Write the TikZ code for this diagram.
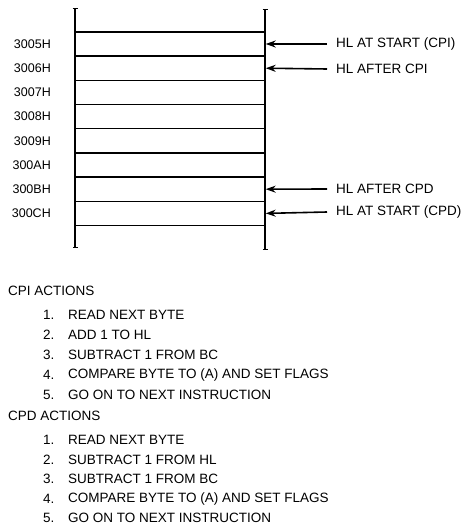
\documentclass[tikz,border=0pt]{standalone}
\usepackage{fontspec}
\setmainfont{Liberation Sans}
\usetikzlibrary{arrows.meta}
\tikzset{
  cell/.style={draw,line width=1.4pt,minimum width=190pt,minimum height=24.2pt,inner sep=0pt},
  addr/.style={anchor=east,inner sep=0pt,font=\fontsize{12.5}{14}\selectfont},
  hl/.style={anchor=west,inner sep=0pt,font=\fontsize{13.5}{16}\selectfont},
  txt/.style={anchor=west,inner sep=0pt,font=\fontsize{13.5}{15}\selectfont},
  ptr/.style={-{Stealth[length=10pt,width=7pt]},line width=1.6pt},
  side/.style={{Bar[width=5pt]}-{Bar[width=5pt]},line width=1.4pt}
}
\begin{document}
\begin{tikzpicture}[x=1pt,y=-1pt]
\useasboundingbox (0,0) rectangle (467,526);

   % memory cells
   \foreach \a [count=\i from 0] in {3005H,3006H,3007H,3008H,3009H,300AH,300BH,300CH} {
     \node[cell] at (170,44+24.2*\i) (c\i) {};
     \node[addr] at (51,44+24.2*\i) (a\i) {\a};
   }
   \draw[side] (75,8) -- (75,248);
   \draw[side] (265,9) -- (265,250);

   \node[hl] at (336,44) (hl0) {HL AT START (CPI)};
   \node[hl] at (336,69) (hl1) {HL AFTER CPI};
   \node[hl] at (336,189) (hl6) {HL AFTER CPD};
   \node[hl] at (336,212) (hl7) {HL AT START (CPD)};

   \draw[ptr] ([xshift=-9pt]hl0.west) -- (c0.east);
   \draw[ptr] ([xshift=-9pt]hl1.west) -- (c1.east);
   \draw[ptr] ([xshift=-9pt]hl6.west) -- (c6.east);
   \draw[ptr] ([xshift=-9pt]hl7.west) -- (c7.east);

   % actions
   \node[txt] at (8,291) (cpi) {CPI ACTIONS};
   \foreach \t [count=\i] in {READ NEXT BYTE,ADD 1 TO HL,SUBTRACT 1 FROM BC,COMPARE BYTE TO (A) AND SET FLAGS,GO ON TO NEXT INSTRUCTION} {
     \node[txt] at (43,295+20*\i) (ni\i) {\i.};
     \node[txt] at (68,295+20*\i) (ti\i) {\t};
   }
   \node[txt] at (8,416) (cpd) {CPD ACTIONS};
   \foreach \t [count=\i] in {READ NEXT BYTE,SUBTRACT 1 FROM HL,SUBTRACT 1 FROM BC,COMPARE BYTE TO (A) AND SET FLAGS,GO ON TO NEXT INSTRUCTION} {
     \node[txt] at (43,420.5+19.5*\i) (nd\i) {\i.};
     \node[txt] at (68,420.5+19.5*\i) (td\i) {\t};
   }

\end{tikzpicture}
\end{document}
